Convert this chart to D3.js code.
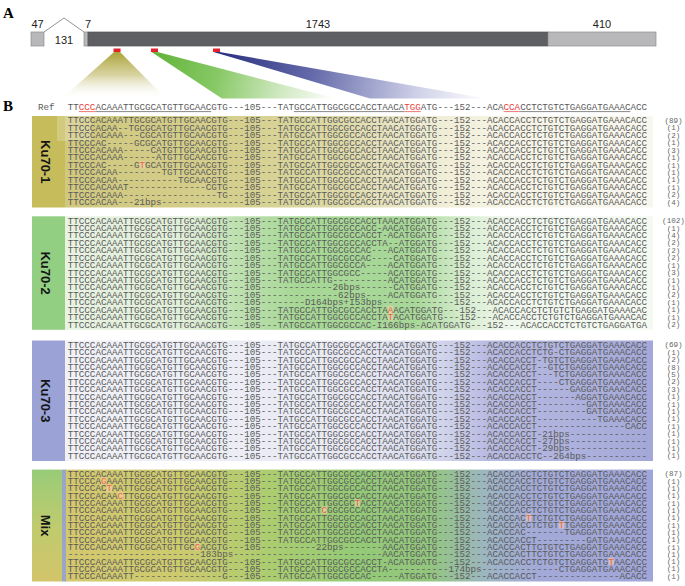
<!DOCTYPE html>
<html><head><meta charset="utf-8">
<script src="https://cdn.jsdelivr.net/npm/d3@7"></script>
<style>body{margin:0;background:#fff}svg{display:block}
.seq{font-family:"Liberation Mono","Courier New",monospace;font-size:9.2px;fill:#5a5a5a}
.cnt{font-family:"Liberation Mono","Courier New",monospace;font-size:7.6px;fill:#666}
</style>
</head><body>
<script>
// ---------------- DATA ----------------
// Panel A: gene structure (bp)
const geneLabels = ["47", "131", "7", "1743", "410"];
const geneLengths = [47, 131, 7, 1743, 410];
const geneKinds = ["utr", "intron", "utr", "cds", "utr"];
const sgRNASites = [295, 437, 672];   // bp positions of the three target sites

// Panel B: reference
const refSeg1 = "TTCCCACAAATTGCGCATGTTGCAACGTG";
const refSeg2 = "TATGCCATTGGCGCCACCTAACATGGATG";
const refSeg3 = "ACACCACCTCTGTCTGAGGATGAAACACC";
const refGaps = ["105", "152"];
const refPam = [[2, 5], [61, 64], [79, 82]];
const refUnderline = [[5, 26], [41, 61], [82, 102]];

// groups (null = reference segment)
const groupNames = ["Ku70-1", "Ku70-2", "Ku70-3", "Mix"];

const ku70_1Seqs = [
  [null],
  ["TTCCCACAA--TGCGCATGTTGCAACGTG"],
  ["TTCCCACAAA---CGCATGTTGCAACGTG"],
  ["TTCCCAC-----GCGCATGTTGCAACGTG"],
  ["TTCCCACAAA-----CATGTTGCAACGTG"],
  ["TTCCCACAAA------ATGTTGCAACGTG"],
  ["TTCCCAC-----G[T]GCATGTTGCAACGTG"],
  ["TTCCCACAA--------TGTTGCAACGTG"],
  ["TTCCCACAA-----------TGCAACGTG"],
  ["TTCCCACAAAT--------------CGTG"],
  ["TTCCCACAAA-----------------TG"],
  ["TTCCCACAA---21bps------------"]
];
const ku70_1Counts = [89, 1, 2, 1, 3, 1, 1, 1, 1, 1, 2, 4];

const ku70_2Seqs = [
  [null],
  [null, "TATGCCATTGGCGCCACC-AACATGGATG"],
  [null, "TATGCCATTGGCGCCACCT-ACATGGATG"],
  [null, "TATGCCATTGGCGCCACCTA--ATGGATG"],
  [null, "TATGCCATTGGCGCCAC---ACATGGATG"],
  [null, "TATGCCATTGGCGCCAC----CATGGATG"],
  [null, "TATGCCATTGGCGCCA----ACATGGATG"],
  [null, "TATGCCATTGGCGCC-----ACATGGATG"],
  [null, "TATGCCATTG----------ACATGGATG"],
  [null, "----------26bps------CATGGATG"],
  [null, "-----------62bps----ACATGGATG"],
  [null, "-----D164bps+I53bps----------"],
  [null, "TATGCCATTGGCGCCACCTA[A]ACATGGATG", "ACACCACCTCTGTCTGAGGATGAAACAC"],
  [null, "TATGCCATTGGCGCCACCTA[T]ACATGGATG", "ACACCACCTCTGTCTGAGGATGAAACAC"],
  [null, "TATGCCATTGGCGCCAC-I166bps-ACATGGATG", "ACACCACCTCTGTCTGAGGATGA"]
];
const ku70_2Counts = [102, 1, 4, 2, 2, 2, 1, 3, 1, 1, 2, 1, 1, 1, 2];

const ku70_3Seqs = [
  [null],
  [null, null, "ACACCACCTCTG-CTGAGGATGAAACACC"],
  [null, null, "ACACCACCT-TGTCTGAGGATGAAACACC"],
  [null, null, "ACACCACCT--GTCTGAGGATGAAACACC"],
  [null, null, "ACACCACCT---TCTGAGGATGAAACACC"],
  [null, null, "ACACCACCT----CTGAGGATGAAACACC"],
  [null, null, "ACACCACCT------GAGGATGAAACACC"],
  [null, null, "ACACCACCT-------AGGATGAAACACC"],
  [null, null, "ACACCACCT---------GATGAAACACC"],
  [null, null, "ACACCACCT---------GATGAAACACC"],
  [null, null, "ACACCACCT-----------TGAAACACC"],
  [null, null, "ACACCACCT----------------CACC"],
  [null, null, "ACACCACCT-21bps--------------"],
  [null, null, "ACACCACCT-27bps--------------"],
  [null, null, "ACACCACCT-29bps--------------"],
  [null, null, "ACACCACCTC--264bps-----------"]
];
const ku70_3Counts = [69, 1, 2, 8, 5, 2, 3, 1, 1, 1, 1, 1, 1, 1, 1, 1];

const mixSeqs = [
  [null],
  ["TTCCCA[G]AAATTGCGCATGTTGCAACGTG"],
  ["TTCCCAC[T]AATTGCGCATGTTGCAACGTG"],
  ["TTCCCACAA[C]TTGCGCATGTTGCAACGTG"],
  [null, "TATGCCATTGGCGC[T]ACCTAACATGGATG"],
  [null, "TATGCCAT[C]GGCGCCACCTAACATGGATG"],
  [null, null, "ACACCAC[T]TCTGTCTGAGGATGAAACACC"],
  [null, null, "ACACCACCTCTGT[T]TGAGGATGAAACACC"],
  [null, null, "ACACCAC-------TGAGGATGAAACACC"],
  [null, null, "ACACCACCT---------GATGAAACACC"],
  ["TTCCCACAAATTGCGCATGTTGC[G]ACGTG", "-------22bps-------AACATGGATG", "ACACCACTTCTGTCTGAGGATGAAACACC"],
  "------------------------183bps---------------------------AACATGGATG---152---ACACCACTTCTGTCTGAGGATGAAACACC",
  [null, "TATGCCATTGGCGCCACCT-ACATGGATG", "ACACCACCTCTGTCTGAGGATG[T]AACACC"],
  "TTCCCACAAATTGCGCATGTTGCAACGTG---105---TATGCCATTGGCGCCACCTA-----------174bps--------------CTGAGGATGAAACACC",
  ["TTCCCACAAATT----------------G", "TATGCCATTGGCGCCAC-----ATGGATG", "ACACCACCT---------------ACACC"]
];
const mixCounts = [87, 1, 1, 1, 1, 1, 1, 1, 1, 1, 1, 1, 1, 1, 1];

// ---------------- DRAW ----------------
const W = 685, H = 586;
const svg = d3.select("body").append("svg").attr("width", W).attr("height", H)
  .style("font-family", "'Liberation Sans', Arial, sans-serif");
const defs = svg.append("defs");

function linGrad(id, x1, y1, x2, y2, stops) {
  const g = defs.append("linearGradient").attr("id", id).attr("gradientUnits", "userSpaceOnUse")
    .attr("x1", x1).attr("y1", y1).attr("x2", x2).attr("y2", y2);
  stops.forEach(s => g.append("stop").attr("offset", s[0]).attr("stop-color", s[1]).attr("stop-opacity", s[2] == null ? 1 : s[2]));
}

// panel letters
svg.append("text").attr("x", 3).attr("y", 18).text("A")
  .style("font-family", "'Liberation Serif','Times New Roman',serif").style("font-weight", "bold").style("font-size", "15px");
svg.append("text").attr("x", 3).attr("y", 111).text("B")
  .style("font-family", "'Liberation Serif','Times New Roman',serif").style("font-weight", "bold").style("font-size", "15px");

// ---- Panel A ----
const geneBounds = [0, ...d3.cumsum(geneLengths)];
const xGene = d3.scaleLinear().domain(geneBounds).range([31, 44, 84, 88, 548, 656]);
const barY = 32, barH = 14;
const gA = svg.append("g");

// wedges first (behind)
const site = sgRNASites.map(s => xGene(s));
const wedgeBases = [[62, 166], [222, 336], [370, 486]];
linGrad("wY", 0, 52, 0, 99, [[0, "#aaa236"], [0.5, "#cfc98c", 0.8], [1, "#ffffff", 0]]);
linGrad("wG", site[1], 52, wedgeBases[1][1], 98, [[0, "#62b43a"], [0.35, "#86c864"], [0.7, "#cfe8c0"], [1, "#ffffff"]]);
linGrad("wB", site[2], 52, wedgeBases[2][1], 98, [[0, "#2a2f7e"], [0.35, "#6268a8"], [0.75, "#cfd1e8"], [1, "#ffffff"]]);
const wedgeFills = ["url(#wY)", "url(#wG)", "url(#wB)"];
site.forEach((sx, i) => {
  const pts = [[sx - 3, 52], [sx + 3, 52], [wedgeBases[i][1], 98.5], [wedgeBases[i][0], 98.5]];
  gA.append("polygon").attr("points", pts.map(p => p.join(",")).join(" ")).attr("fill", wedgeFills[i]);
});

// exons
geneKinds.forEach((k, i) => {
  const x0 = xGene(geneBounds[i]), x1 = xGene(geneBounds[i + 1]);
  if (k === "intron") {
    gA.append("polyline").attr("points", `${x0},${barY} ${(x0 + x1) / 2},${barY - 14} ${x1},${barY}`)
      .attr("fill", "none").attr("stroke", "#777").attr("stroke-width", 0.8);
    gA.append("text").attr("x", (x0 + x1) / 2).attr("y", barY + 12).attr("text-anchor", "middle")
      .style("font-size", "11px").attr("fill", "#222").text(geneLabels[i]);
  } else {
    gA.append("rect").attr("x", x0).attr("y", barY).attr("width", x1 - x0).attr("height", barH)
      .attr("fill", k === "cds" ? "#5e5f63" : "#b8b8ba").attr("stroke", k === "cds" ? "#555" : "#8c8c8c").attr("stroke-width", 0.7);
    const lx = geneLabels[i] === "7" ? x0 + 1 : (x0 + x1) / 2;
    gA.append("text").attr("x", lx).attr("y", barY - 4).attr("text-anchor", geneLabels[i] === "7" ? "start" : "middle")
      .style("font-size", "11px").attr("fill", "#222").text(geneLabels[i]);
  }
});
site.forEach(sx => {
  gA.append("rect").attr("x", sx - 3.5).attr("y", 48.5).attr("width", 7).attr("height", 3.5).attr("fill", "#e3202b");
});

// ---- Panel B ----
const refSeq = refSeg1 + "---" + refGaps[0] + "---" + refSeg2 + "---" + refGaps[1] + "---" + refSeg3;
const nChars = refSeq.length;
const xChar = d3.scaleLinear().domain([0, nChars]).range([67.8, 647]);
const cw = xChar(1) - xChar(0);

function buildRow(spec) {
  if (typeof spec === "string") return spec;
  const s1 = spec[0] || refSeg1, s2 = spec[1] || refSeg2, s3 = spec[2] || refSeg3;
  return s1 + "---" + refGaps[0] + "---" + s2 + "---" + refGaps[1] + "---" + s3;
}
function parseRow(s) {
  const out = []; let red = false;
  for (const c of s) {
    if (c === "[") { red = true; continue; }
    if (c === "]") { red = false; continue; }
    out.push({ c, red });
  }
  return out;
}
// one text per row; each glyph placed by the char scale, red runs as tspans
function drawSeq(g, chars, yc, redColor, highlight) {
  chars.forEach((d, j) => {
    if (d.red && highlight) g.append("rect").attr("x", xChar(j)).attr("y", yc - 3.8).attr("width", cw).attr("height", 7.6)
      .attr("fill", "#f7d2b8").attr("opacity", 0.55);
  });
  const runs = [];
  chars.forEach((d, j) => {
    const last = runs[runs.length - 1];
    if (last && last.red === d.red) { last.s += d.c; last.xs.push(xChar(j)); }
    else runs.push({ red: d.red, s: d.c, xs: [xChar(j)] });
  });
  const t = g.append("text").attr("class", "seq").attr("y", yc + 3.2);
  runs.forEach(r => {
    const ts = t.append("tspan").attr("x", r.xs.map(v => v.toFixed(2)).join(" ")).text(r.s);
    if (r.red) ts.style("fill", redColor);
  });
}

// Ref row
const gRef = svg.append("g");
const refY = 106.8;
gRef.append("text").attr("class", "seq").attr("x", 38).attr("y", refY + 3.2).text("Ref");
const refChars = refSeq.split("").map((c, i) => ({ c, red: refPam.some(r => i >= r[0] && i < r[1]) }));
drawSeq(gRef, refChars, refY, "#e8403a", false);
refUnderline.forEach(r => gRef.append("line").attr("x1", xChar(r[0])).attr("x2", xChar(r[1]))
  .attr("y1", refY + 4.8).attr("y2", refY + 4.8).attr("stroke", "#555").attr("stroke-width", 0.7));
refPam.forEach(r => gRef.append("line").attr("x1", xChar(r[0])).attr("x2", xChar(r[1]))
  .attr("y1", refY + 4.8).attr("y2", refY + 4.8).attr("stroke", "#e8403a").attr("stroke-width", 0.7));

// group backgrounds
const bodyX0 = 65, bodyX1 = 653, stripX0 = 32;
const off = x => (x - bodyX0) / (bodyX1 - bodyX0);
linGrad("bg0", bodyX0, 0, bodyX1, 0, [[0, "#d0c87e"], [off(250), "#d6d090"], [off(340), "#dedaa8"], [off(430), "#efecd4"], [off(510), "#f6f4e6"], [1, "#f8f7ee"]]);
linGrad("bg1", bodyX0, 0, bodyX1, 0, [[0, "#e8f3e2"], [off(190), "#e0eed8"], [off(235), "#bfe1b1"], [off(300), "#a6d795"], [off(415), "#a8d898"], [off(465), "#d8edd0"], [off(510), "#eff7ec"], [1, "#f4f9f2"]]);
linGrad("bg2", bodyX0, 0, bodyX1, 0, [[0, "#f1f1f7"], [off(360), "#e8e9f4"], [off(430), "#d8daee"], [off(490), "#b7bae1"], [1, "#a3a8d8"]]);
linGrad("bg3", bodyX0, 0, bodyX1, 0, [[0, "#d4c86e"], [off(180), "#cdca6e"], [off(270), "#abcd70"], [off(360), "#93ca76"], [off(430), "#93c67e"], [off(490), "#9db4c6"], [off(535), "#a3aad8"], [1, "#a0a6d8"]]);
linGrad("stripMix", 0, 470, 0, 582, [[0, "#98cc78"], [0.5, "#bfcb6e"], [1, "#d3c46a"]]);

const stripFills = ["#c6bc5c", "#93cf83", "#9aa2d6", "url(#stripMix)"];
const groups = [
  { seqs: ku70_1Seqs, counts: ku70_1Counts, y0: 120, y1: 202 },
  { seqs: ku70_2Seqs, counts: ku70_2Counts, y0: 220.3, y1: 324.3 },
  { seqs: ku70_3Seqs, counts: ku70_3Counts, y0: 344.5, y1: 455.5 },
  { seqs: mixSeqs, counts: mixCounts, y0: 473.6, y1: 576 }
];

groups.forEach((grp, gi) => {
  const n = grp.seqs.length;
  const y = d3.scaleLinear().domain([0, n - 1]).range([grp.y0, grp.y1]);
  const top = grp.y0 - 4, bot = grp.y1 + 5.5;
  const g = svg.append("g");
  g.append("rect").attr("x", bodyX0).attr("y", top).attr("width", bodyX1 - bodyX0).attr("height", bot - top)
    .attr("fill", `url(#bg${gi})`);
  const stripW = gi === 3 ? 30 : bodyX0 - stripX0;
  g.append("rect").attr("x", stripX0).attr("y", top).attr("width", stripW).attr("height", bot - top).attr("fill", stripFills[gi]);
  if (gi === 3) g.append("rect").attr("x", stripX0 + 30).attr("y", top).attr("width", bodyX0 - stripX0 - 30 + 1).attr("height", bot - top).attr("fill", "#9aa6c6");
  if (gi === 0) g.append("rect").attr("x", 57).attr("y", top).attr("width", 34).attr("height", 25).attr("fill", "#fff").attr("opacity", 0.22);
  const cy = (top + bot) / 2;
  g.append("text").attr("transform", `translate(45.5,${cy}) rotate(90)`).attr("text-anchor", "middle")
    .attr("dominant-baseline", "central").style("font-weight", "bold").style("font-size", "13px").attr("fill", "#151515")
    .text(groupNames[gi]);
  grp.seqs.forEach((spec, i) => {
    drawSeq(g, parseRow(buildRow(spec)), y(i), "#e8663c", true);
    g.append("text").attr("class", "cnt").attr("x", 673.5).attr("y", y(i) + 2.8).attr("text-anchor", "middle")
      .text("(" + grp.counts[i] + ")");
  });
});
</script>
</body></html>
